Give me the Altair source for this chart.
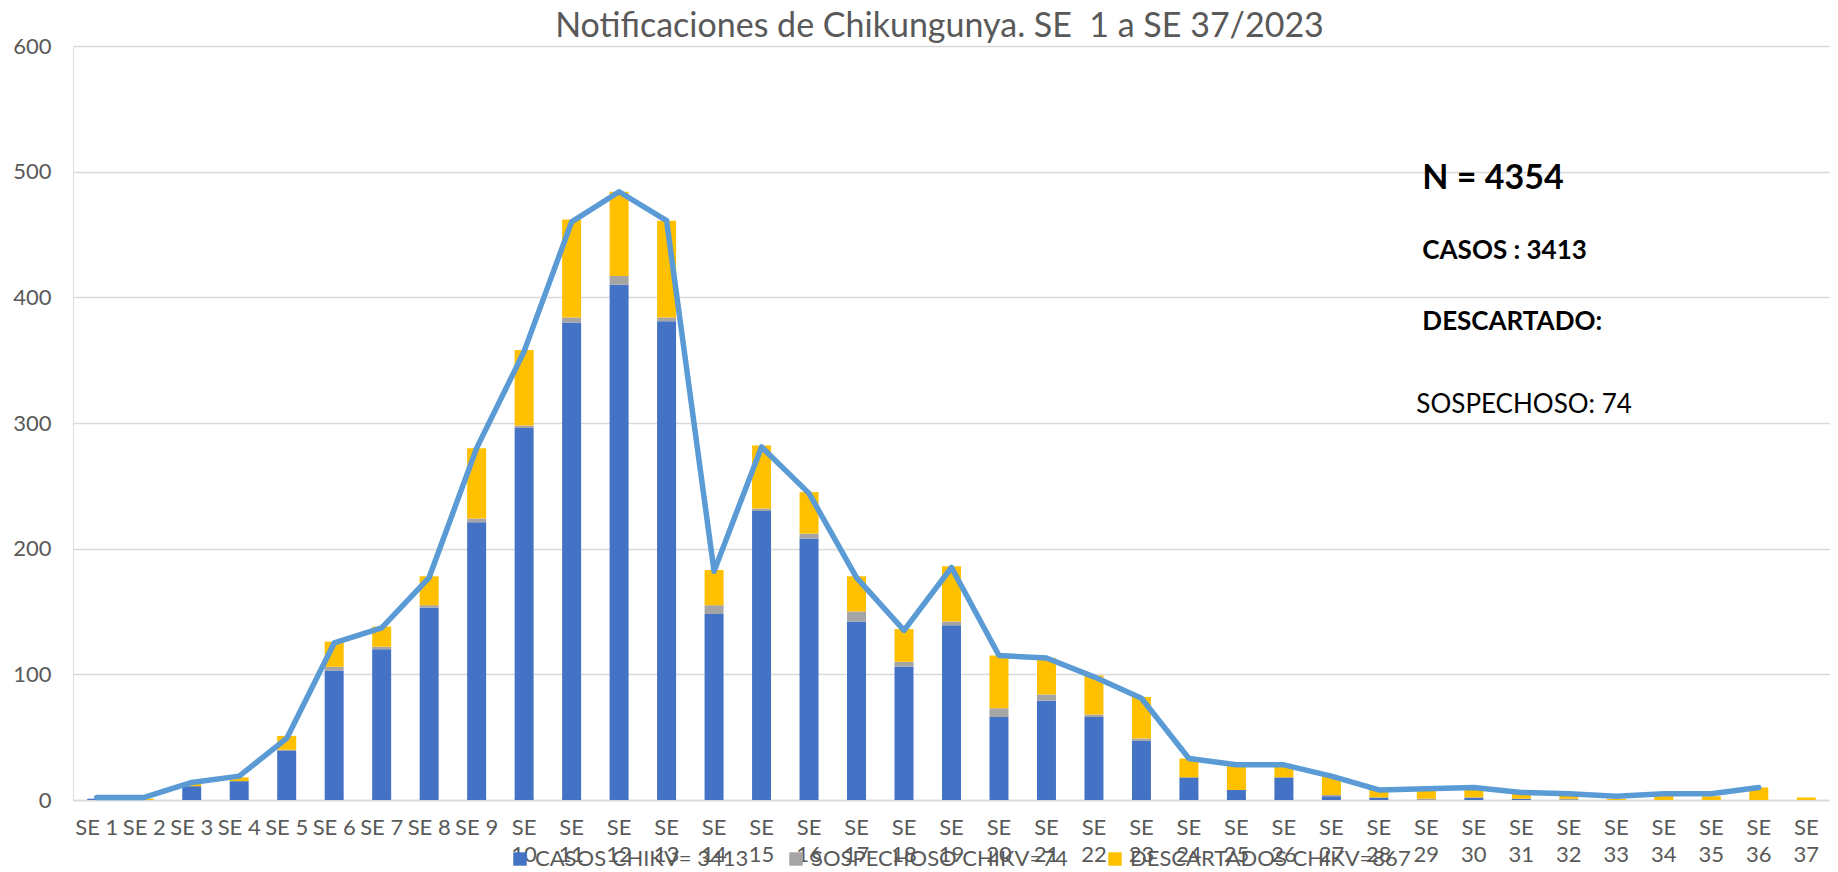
import altair as alt
import pandas as pd

weeks = [f"SE {i}" for i in range(1, 38)]

casos = [1, 0, 11, 15, 39, 103, 120, 153, 221, 296, 380, 410, 381, 148, 230, 208, 142, 106, 139, 66,
         79, 66, 47, 18, 8, 18, 3, 2, 0, 2, 1, 0, 0, 0, 0, 0, 0]
sospechosos = [0, 0, 0, 0, 1, 3, 2, 2, 3, 2, 4, 7, 3, 7, 2, 4, 8, 4, 3, 7,
               5, 2, 2, 0, 0, 0, 1, 0, 1, 0, 0, 1, 0, 0, 0, 0, 0]
descartados = [0, 1, 2, 3, 11, 20, 16, 23, 56, 60, 78, 67, 77, 28, 50, 33, 28, 26, 44, 42,
               29, 31, 33, 15, 20, 10, 15, 6, 8, 8, 4, 3, 1, 4, 3, 10, 2]
total_line = [2, 2, 14, 19, 49, 125, 137, 177, 280, 357, 460, 484, 461, 182, 281, 244, 177, 135, 185, 115,
              113, 98, 81, 33, 28, 28, 19, 8, 9, 10, 6, 5, 3, 5, 5, 10, None]

series_names = ["CASOS CHIKV= 3413", "SOSPECHOSO CHIKV=74", "DESCARTADOS CHIKV=867"]
series_colors = ["#4472C4", "#A5A5A5", "#FFC000"]

title_text = "Notificaciones de Chikungunya. SE \u00a01 a SE 37/2023"
y_ticks = [0, 100, 200, 300, 400, 500, 600]

ann_week = ["SE 29", "SE 29", "SE 29", "SE 29"]
ann_y = [494, 437, 380, 314]
ann_text = ["N = 4354", "CASOS : 3413", "DESCARTADO:", "SOSPECHOSO: 74"]
ann_size = [34, 26, 26, 26]
ann_bold = [True, True, True, False]

FONT = "Lato"
GREY = "#595959"

rows = []
for si, (name, vals) in enumerate(zip(series_names, [casos, sospechosos, descartados])):
    for w, v in zip(weeks, vals):
        rows.append({"week": w, "serie": name, "value": v, "ord": si})
bars_df = pd.DataFrame(rows)
line_df = pd.DataFrame({"week": weeks, "total": total_line}).dropna()
ann_df = pd.DataFrame({"week": ann_week, "y": ann_y, "text": ann_text, "fs": ann_size, "bold": ann_bold})

xscale = alt.Scale(domain=weeks, paddingInner=0.6, paddingOuter=0.3)
yscale = alt.Scale(domain=[0, 600], nice=False)

x_enc = alt.X("week:N", sort=weeks, scale=xscale, title=None,
              axis=alt.Axis(labelAngle=0, labelFont=FONT, labelFontSize=22, labelColor=GREY,
                            labelExpr="length(datum.label) > 4 ? split(datum.label, ' ') : datum.label",
                            labelLineHeight=27, labelPadding=17, ticks=False, domain=True,
                            domainColor="#D9D9D9", domainWidth=1.5, grid=False, labelOverlap=False))

bars = alt.Chart(bars_df).mark_bar().encode(
    x=x_enc,
    y=alt.Y("value:Q", stack="zero", scale=yscale, title=None,
            axis=alt.Axis(values=y_ticks, labelFont=FONT, labelFontSize=22, labelColor=GREY,
                          labelPadding=22, ticks=False, domain=False, gridColor="#D9D9D9",
                          gridWidth=1.5)),
    color=alt.Color("serie:N", scale=alt.Scale(domain=series_names, range=series_colors),
                    legend=alt.Legend(title=None, orient="none", legendX=436, legendY=802,
                                      direction="horizontal", symbolType="square", symbolSize=180,
                                      symbolStrokeWidth=0, labelFont=FONT, labelFontSize=22,
                                      labelColor=GREY, columnPadding=36, labelOffset=4,
                                      labelLimit=500)),
    order=alt.Order("ord:Q", sort="ascending"),
)

line = alt.Chart(line_df).mark_line(color="#5B9BD5", strokeWidth=5.5, strokeJoin="round",
                                    strokeCap="round").encode(
    x=alt.X("week:N", sort=weeks, scale=xscale),
    y=alt.Y("total:Q", scale=yscale),
)

ann_bold_layer = alt.Chart(ann_df[ann_df["bold"]]).mark_text(
    align="left", baseline="middle", font=FONT, fontWeight="bold", color="black", dx=-4
).encode(
    x=alt.X("week:N", sort=weeks, scale=xscale),
    y=alt.Y("y:Q", scale=yscale),
    text="text:N",
    size=alt.Size("fs:Q", scale=None, legend=None),
)
ann_reg_layer = alt.Chart(ann_df[~ann_df["bold"]]).mark_text(
    align="left", baseline="middle", font=FONT, fontWeight="normal", color="black", dx=-10
).encode(
    x=alt.X("week:N", sort=weeks, scale=xscale),
    y=alt.Y("y:Q", scale=yscale),
    text="text:N",
    size=alt.Size("fs:Q", scale=None, legend=None),
)

chart = alt.layer(bars, line, ann_bold_layer, ann_reg_layer).properties(
    width=1757, height=754,
    autosize=alt.AutoSizeParams(type="none"),
    padding={"left": 65, "right": 0, "top": 38, "bottom": 76},
    title=alt.TitleParams(title_text, font=FONT, fontSize=34, fontWeight="normal", color=GREY,
                          anchor="middle", dx=-12, dy=13, offset=4),
).configure_view(stroke=None).configure(background="white")

chart.save("out.html", embed_options={"renderer": "svg", "actions": False})
